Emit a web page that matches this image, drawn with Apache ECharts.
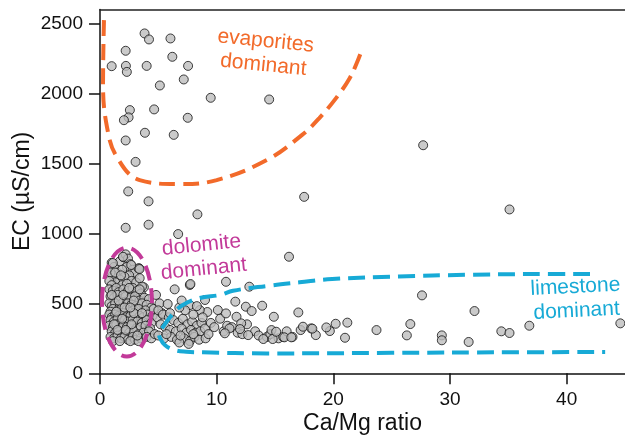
<!DOCTYPE html>
<html>
<head>
<meta charset="utf-8">
<script src="https://cdn.jsdelivr.net/npm/echarts@6/dist/echarts.min.js"></script>
<style>
  html, body { margin: 0; padding: 0; background: #fff; }
  #main { width: 625px; height: 436px; }
</style>
</head>
<body>
<div id="main"></div>
<script>
// sample points: Ca/Mg ratio vs EC
var ratio = [
  // high EC scatter
  1.0, 2.2, 2.22, 2.3, 3.82, 4.2, 6.04, 6.2, 7.55, 7.18, 4.0, 5.13, 9.49, 14.5,
  2.56, 2.45, 2.05, 4.64, 7.52, 3.85, 6.32, 2.2, 3.05, 2.42, 4.16, 8.35, 17.5,
  27.7, 35.1, 2.2, 4.16, 6.7, 16.2, 10.8, 12.8, 7.7, 6.4, 3.76, 3.36,
  // dolomite cluster
  1.0, 1.2, 1.5, 1.7, 2.0, 2.2, 2.4, 2.6, 2.3, 1.9, 1.4, 1.1, 0.9, 2.8, 3.0, 3.3, 2.5, 2.1, 1.7, 1.3,
  0.8, 2.7, 3.1, 3.6, 1.0, 1.9, 2.3, 3.4,
  0.8, 1.1, 1.4, 1.6, 2.0, 2.4, 2.8, 3.2, 3.5, 0.9, 1.2, 1.5, 1.8, 2.2, 2.6, 3.0, 3.4, 3.8, 4.2,
  0.8, 1.0, 1.3, 1.7, 2.0, 2.4, 2.7, 3.1, 3.6, 4.0, 4.4, 1.1, 1.5, 1.9, 2.3, 2.9, 3.3, 3.9, 0.9, 2.5,
  0.8, 1.0, 1.3, 1.6, 2.0, 2.2, 2.6, 3.0, 3.4, 3.7, 4.1, 4.5, 0.9, 1.2, 1.5, 1.8, 2.1, 2.4, 2.8, 3.2,
  3.6, 4.0, 4.4, 0.8, 1.1, 1.4, 1.7, 2.0, 2.3, 2.7, 3.1, 3.5, 3.9, 4.3, 1.0, 1.3, 1.6, 1.9, 2.2, 2.5,
  2.9, 3.3, 3.7, 4.2, 0.9, 1.2, 1.5, 1.8, 2.1, 2.4, 2.8, 3.0, 3.5, 4.0, 1.1, 1.7, 2.6, 3.3, 4.4, 4.7,
  1.0, 2.9, 1.97, 2.68, 1.1, 3.39,
  1.3, 1.8, 2.5, 1.6, 2.1, 2.9, 1.2, 2.7, 1.5, 2.2, 3.2, 1.4, 2.0, 3.6, 1.9, 2.6, 3.4, 4.6, 4.9, 5.3,
  // band towards limestone
  4.8, 5.1, 5.8, 5.0, 5.4, 5.9, 6.3, 6.7, 7.1, 7.5, 7.9, 8.3, 8.7, 5.2, 5.6, 6.0, 6.5, 7.0, 7.4, 7.8,
  8.2, 8.6, 9.0, 5.0, 5.5, 6.1, 6.6, 7.2, 7.7, 8.1, 8.5, 9.05, 6.8, 7.6, 5.7, 6.9, 8.0, 9.3, 7.7, 7.75,
  9.0, 9.2, 8.55, 7.3, 6.8, 8.0, 8.8, 6.0, 7.0, 8.3, 9.5, 9.8, 10.1, 10.3, 10.6, 10.9, 11.3, 11.6, 11.8,
  12.2, 12.5, 12.6, 13.0, 13.3, 13.6, 13.9, 14.3, 14.6, 14.9, 15.3, 15.7, 16.0, 16.5, 17.0, 10.8, 11.7,
  12.1, 11.1, 12.0, 12.7, 14.0, 14.7, 14.8, 15.1, 15.8, 16.4, 17.2, 17.4, 18.1, 10.7,
  // far right
  27.6, 32.1, 36.8, 44.6, 34.4, 35.1, 31.6, 29.3, 29.3, 26.6, 26.3, 23.7, 21.2, 21.0, 20.2, 19.7,
  19.4, 18.5, 18.2
];
var ec = [
  2195, 2305, 2197, 2154, 2429, 2386, 2393, 2262, 2197, 2100, 2197, 2057, 1969, 1957,
  1881, 1829, 1809, 1886, 1826, 1719, 1704, 1664, 1511, 1300, 1229, 1136, 1261,
  1630, 1171, 1040, 1062, 995, 833, 654, 619, 631, 600, 614, 750,
  790, 760, 720, 800, 830, 850, 820, 780, 760, 740, 680, 700, 720, 740, 720, 750, 700, 690, 670, 650,
  660, 660, 650, 620, 630, 630, 640, 680,
  600, 590, 610, 580, 600, 590, 610, 590, 570, 550, 540, 560, 530, 550, 540, 550, 520, 540, 530,
  500, 480, 500, 490, 510, 500, 490, 480, 500, 490, 470, 460, 450, 470, 460, 450, 460, 450, 440, 440,
  420, 400, 420, 410, 430, 400, 410, 420, 410, 400, 420, 410, 380, 370, 390, 360, 380, 370, 380, 370,
  360, 380, 360, 340, 330, 350, 320, 340, 330, 340, 320, 330, 340, 320, 300, 290, 300, 280, 300, 290,
  300, 280, 290, 300, 260, 250, 270, 250, 260, 240, 260, 240, 250, 260, 230, 230, 230, 230, 250, 280,
  560, 520, 833, 774, 788, 745,
  720, 700, 610, 520, 470, 430, 350, 350, 310, 310, 270, 440, 560, 430, 390, 470, 600, 460, 400, 430,
  560, 500, 495, 450, 420, 400, 380, 360, 390, 350, 370, 340, 360, 350, 330, 310, 300, 320, 290, 310,
  290, 300, 320, 270, 250, 260, 240, 250, 230, 260, 240, 250, 220, 210, 280, 270, 280, 280, 488, 638,
  524, 438, 452, 450, 470, 420, 400, 430, 520, 480, 360, 330, 452, 390, 300, 340, 330, 512, 290,
  280, 476, 350, 445, 300, 270, 483, 260, 280, 404, 250, 260, 300, 260, 435, 428, 404,
  357, 321, 316, 273, 245, 309, 245, 297, 257, 257, 309, 333, 321, 286,
  557, 445, 340, 357, 300, 288, 224, 271, 236, 352, 271, 309, 362, 254, 354, 302,
  328, 273, 319
];

// hand-read outlines of the three zones
var evapX = [0.34, 0.26, 0.6, 1.45, 3.4, 6.84, 10.0, 14.3, 17.3, 18.8, 20.3, 21.4, 22.0, 22.5];
var evapY = [2524, 2074, 1760, 1545, 1381, 1352, 1381, 1524, 1702, 1824, 1974, 2109, 2216, 2324];
var limeX = [42, 37, 31.4, 25.6, 19.9, 17.1, 14.3, 11.4, 10.3, 8.55, 7.1, 6.27, 5.3, 5.04,
             5.13, 5.56, 6.4, 7.4, 8.8, 14.3, 25, 35, 43.3];
var limeY = [709, 709, 704, 692, 674, 650, 624, 590, 560, 538, 488, 428, 320, 288,
             255, 202, 166, 154, 150, 142, 146, 150, 152];
var dolo = { x: 2.31, y: 509, rx: 2.14, ry: 389 };

var xTicks = [0, 10, 20, 30, 40];
var yTicks = [0, 500, 1000, 1500, 2000, 2500];

var orange = '#F26A2A', magenta = '#C23A99', cyan = '#17AAD6';

function zip(a, b) {
  var out = [];
  for (var i = 0; i < a.length; i++) out.push([a[i], b[i]]);
  return out;
}

var myChart = echarts.init(document.getElementById('main'));
var font = 'Liberation Sans, Arial, sans-serif';
var plain = function (v) { return String(v); };

var option = {
  animation: false,
  grid: { left: 100, right: 0, top: 9.5, bottom: 62.7, outerBoundsMode: 'none' },
  xAxis: [{
    type: 'value', min: 0, max: 45,
    name: 'Ca/Mg ratio', nameLocation: 'middle', nameGap: 39, nameMoveOverlap: false,
    nameTextStyle: { fontSize: 23, color: '#111', fontFamily: font },
    axisLine: { lineStyle: { color: '#111', width: 1.5 } },
    axisTick: { length: 11, customValues: xTicks, lineStyle: { color: '#111', width: 1.5 } },
    axisLabel: { customValues: xTicks, formatter: plain, fontSize: 19, color: '#111', fontFamily: font, margin: 17 },
    splitLine: { show: false }
  }, {
    type: 'value', min: 0, max: 45, position: 'top',
    axisLine: { show: true, lineStyle: { color: '#222', width: 1.5 } },
    axisTick: { show: false }, axisLabel: { show: false }, splitLine: { show: false }
  }],
  yAxis: {
    type: 'value', min: 0, max: 2600,
    name: 'EC (µS/cm)', nameLocation: 'middle', nameGap: 66, nameRotate: 90, nameMoveOverlap: false,
    nameTextStyle: { fontSize: 23, color: '#111', fontFamily: font },
    axisLine: { show: true, lineStyle: { color: '#111', width: 1.5 } },
    axisTick: { show: true, length: 11, customValues: yTicks, lineStyle: { color: '#111', width: 1.5 } },
    axisLabel: { customValues: yTicks, formatter: plain, fontSize: 19, color: '#111', fontFamily: font, margin: 17 },
    splitLine: { show: false }
  },
  series: [
    {
      type: 'scatter', data: zip(ratio, ec), symbolSize: 9, z: 2,
      itemStyle: { color: '#BDBDBD', borderColor: '#111', borderWidth: 1 }
    },
    {
      type: 'line', data: zip(evapX, evapY), smooth: 0.4, showSymbol: false, silent: true, z: 5,
      lineStyle: { color: orange, width: 4, type: [16, 8] }
    },
    {
      type: 'line', data: zip(limeX, limeY), smooth: 0.4, showSymbol: false, silent: true, z: 5,
      lineStyle: { color: cyan, width: 4, type: [17, 8] }
    }
  ]
};
myChart.setOption(option);

function px(x, y) { return myChart.convertToPixel({ gridIndex: 0 }, [x, y]); }

var c = px(dolo.x, dolo.y);
var e1 = px(dolo.x + dolo.rx, dolo.y + dolo.ry);
var tEvap = px(14.1, 2288);
var tDolo = px(8.8, 830);
var tLime = px(40.8, 531);

function label(p, text, color, rot) {
  return {
    type: 'text', x: p[0], y: p[1], rotation: rot, z: 20,
    style: {
      text: text, fill: color, font: '21px ' + font,
      align: 'center', verticalAlign: 'middle', lineHeight: 24
    }
  };
}

myChart.setOption({
  graphic: [
    {
      type: 'ellipse', z: 20,
      shape: { cx: c[0], cy: c[1], rx: e1[0] - c[0], ry: c[1] - e1[1] },
      style: { fill: 'none', stroke: magenta, lineWidth: 4, lineDash: [15, 8] }
    },
    label(tEvap, 'evaporites\ndominant', orange, -0.1),
    label(tDolo, 'dolomite\ndominant', magenta, 0.1),
    label(tLime, 'limestone\ndominant', cyan, 0.05)
  ]
});
</script>
</body>
</html>
